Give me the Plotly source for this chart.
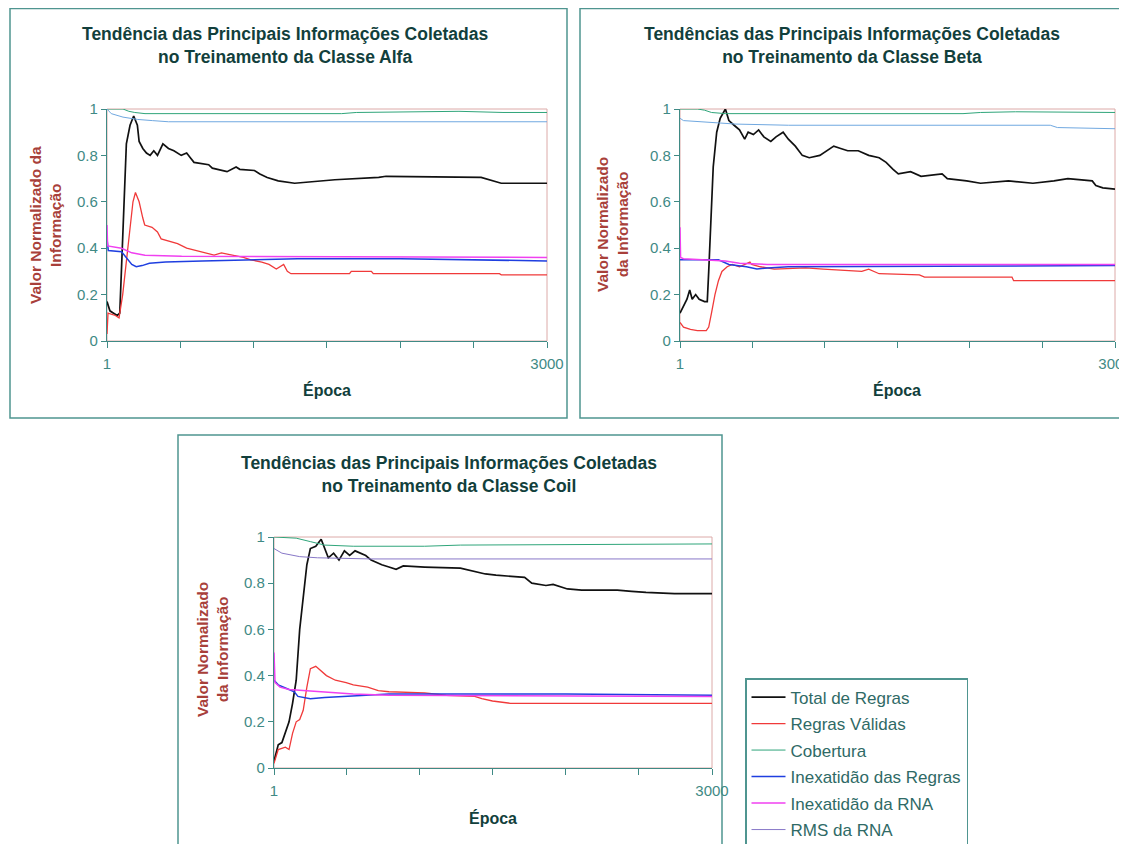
import plotly.graph_objects as go

PAGE_W, PAGE_H = 1127, 844
OFF = 8  # default page margin around the figure
W, H = PAGE_W - OFF, PAGE_H - OFF

series_names = ["Total de Regras", "Regras Válidas", "Cobertura",
                "Inexatidão das Regras", "Inexatidão da RNA", "RMS da RNA"]

# ---------------- Classe Alfa ----------------
alfa_total_x = [1, 21, 46, 71, 88, 108, 133, 158, 183, 208, 220, 245, 270, 295, 320, 345, 382, 420, 457, 507,
                544, 569, 594, 694, 719, 819, 881, 906, 1006, 1043, 1093, 1168, 1280, 1554, 1853, 1903, 2551,
                2688, 3000]
alfa_total_y = [0.17, 0.13, 0.12, 0.11, 0.12, 0.45, 0.85, 0.93, 0.97, 0.93, 0.86, 0.83, 0.81, 0.80, 0.82, 0.80,
                0.85, 0.83, 0.82, 0.80, 0.81, 0.79, 0.77, 0.76, 0.745, 0.73, 0.75, 0.74, 0.735, 0.72, 0.705,
                0.69, 0.68, 0.695, 0.705, 0.71, 0.705, 0.68, 0.68]
alfa_valid_x = [1, 8, 58, 83, 108, 133, 158, 178, 195, 220, 245, 258, 308, 345, 370, 420, 482, 544, 607, 669,
                731, 781, 856, 931, 981, 1056, 1105, 1155, 1205, 1230, 1255, 1654, 1666, 1803, 1816, 2676,
                2688, 3000]
alfa_valid_y = [0.03, 0.12, 0.11, 0.10, 0.20, 0.35, 0.50, 0.60, 0.64, 0.60, 0.53, 0.50, 0.49, 0.47, 0.44, 0.43,
                0.42, 0.40, 0.39, 0.38, 0.37, 0.38, 0.37, 0.36, 0.35, 0.34, 0.33, 0.31, 0.33, 0.30, 0.29, 0.29,
                0.30, 0.30, 0.29, 0.29, 0.285, 0.285]
alfa_cob_x = [1, 110, 150, 190, 260, 1600, 1700, 2400, 2700, 3000]
alfa_cob_y = [1.0, 1.0, 0.99, 0.985, 0.98, 0.98, 0.985, 0.99, 0.985, 0.985]
alfa_inexr_x = [1, 10, 100, 130, 170, 200, 240, 290, 400, 650, 1000, 1300, 2000, 2400, 3000]
alfa_inexr_y = [0.44, 0.39, 0.385, 0.36, 0.33, 0.32, 0.325, 0.335, 0.34, 0.345, 0.35, 0.355, 0.355, 0.35, 0.345]
alfa_inexn_x = [1, 5, 100, 170, 260, 510, 3000]
alfa_inexn_y = [0.50, 0.41, 0.40, 0.38, 0.37, 0.365, 0.36]
alfa_rms_x = [1, 30, 110, 210, 310, 420, 3000]
alfa_rms_y = [1.0, 0.98, 0.965, 0.955, 0.95, 0.945, 0.945]

# ---------------- Classe Beta ----------------
beta_total_x = [1, 25, 49, 68, 85, 109, 133, 170, 189, 199, 230, 254, 278, 314, 338, 374, 411, 447, 471, 507,
                543, 579, 627, 663, 712, 748, 796, 844, 892, 965, 1013, 1061, 1109, 1157, 1230, 1302, 1374,
                1422, 1470, 1506, 1591, 1627, 1663, 1808, 1844, 1977, 2073, 2266, 2434, 2579, 2675, 2843,
                2868, 2916, 3000]
beta_total_y = [0.12, 0.15, 0.18, 0.22, 0.18, 0.20, 0.18, 0.17, 0.17, 0.30, 0.75, 0.90, 0.96, 1.0, 0.95, 0.93,
                0.91, 0.87, 0.90, 0.89, 0.91, 0.88, 0.86, 0.88, 0.90, 0.87, 0.84, 0.80, 0.79, 0.80, 0.82, 0.84,
                0.83, 0.82, 0.82, 0.80, 0.79, 0.77, 0.74, 0.72, 0.73, 0.72, 0.71, 0.72, 0.70, 0.69, 0.68, 0.69,
                0.68, 0.69, 0.70, 0.69, 0.67, 0.66, 0.655]
beta_valid_x = [1, 25, 73, 121, 182, 199, 218, 242, 266, 290, 326, 362, 411, 483, 495, 555, 651, 868, 989,
                1206, 1254, 1302, 1374, 1651, 1687, 2290, 2301, 3000]
beta_valid_y = [0.08, 0.06, 0.05, 0.045, 0.045, 0.06, 0.12, 0.20, 0.26, 0.30, 0.32, 0.33, 0.32, 0.34, 0.33,
                0.32, 0.31, 0.315, 0.31, 0.30, 0.30, 0.31, 0.29, 0.285, 0.275, 0.275, 0.26, 0.26]
beta_cob_x = [1, 121, 170, 218, 314, 1952, 2073, 2314, 3000]
beta_cob_y = [1.0, 1.0, 0.995, 0.985, 0.98, 0.98, 0.985, 0.988, 0.985]
beta_inexr_x = [1, 266, 338, 459, 531, 603, 748, 3000]
beta_inexr_y = [0.35, 0.35, 0.33, 0.32, 0.31, 0.315, 0.32, 0.325]
beta_inexn_x = [1, 5, 25, 218, 314, 411, 603, 3000]
beta_inexn_y = [0.49, 0.36, 0.355, 0.35, 0.345, 0.335, 0.33, 0.33]
beta_rms_x = [1, 25, 146, 387, 748, 2554, 2603, 3000]
beta_rms_y = [0.96, 0.95, 0.945, 0.935, 0.93, 0.93, 0.92, 0.915]

# ---------------- Classe Coil ----------------
coil_total_x = [1, 30, 55, 79, 104, 128, 153, 177, 201, 226, 250, 287, 324, 348, 373, 409, 446, 483, 519, 556,
                593, 629, 666, 702, 739, 788, 837, 886, 1032, 1277, 1350, 1448, 1521, 1717, 1766, 1863, 1912,
                1961, 2010, 2108, 2352, 2450, 2548, 2743, 3000]
coil_total_y = [0.03, 0.10, 0.11, 0.15, 0.20, 0.28, 0.38, 0.60, 0.75, 0.88, 0.95, 0.96, 0.99, 0.95, 0.91, 0.93,
                0.90, 0.94, 0.92, 0.94, 0.93, 0.92, 0.90, 0.89, 0.88, 0.87, 0.86, 0.875, 0.87, 0.865, 0.855,
                0.84, 0.835, 0.825, 0.80, 0.79, 0.795, 0.785, 0.775, 0.77, 0.77, 0.765, 0.76, 0.755, 0.755]
coil_valid_x = [1, 30, 79, 104, 128, 153, 177, 201, 226, 250, 287, 324, 360, 421, 495, 544, 642, 715, 788,
                1032, 1179, 1375, 1424, 1497, 1619, 3000]
coil_valid_y = [0.02, 0.08, 0.09, 0.08, 0.15, 0.20, 0.21, 0.25, 0.35, 0.43, 0.44, 0.42, 0.40, 0.38, 0.37,
                0.36, 0.35, 0.335, 0.33, 0.325, 0.315, 0.31, 0.30, 0.29, 0.28, 0.28]
coil_cob_x = [1, 153, 250, 348, 544, 1032, 1277, 2743, 3000]
coil_cob_y = [1.0, 0.995, 0.98, 0.965, 0.96, 0.96, 0.965, 0.968, 0.97]
coil_inexr_x = [1, 30, 104, 140, 165, 201, 250, 348, 495, 642, 788, 2000, 2743, 3000]
coil_inexr_y = [0.38, 0.36, 0.34, 0.33, 0.31, 0.305, 0.30, 0.305, 0.31, 0.315, 0.32, 0.32, 0.315, 0.315]
coil_inexn_x = [1, 8, 42, 104, 201, 299, 544, 788, 3000]
coil_inexn_y = [0.50, 0.37, 0.35, 0.34, 0.335, 0.33, 0.32, 0.315, 0.31]
coil_rms_x = [1, 55, 177, 299, 666, 3000]
coil_rms_y = [0.95, 0.93, 0.915, 0.91, 0.905, 0.905]

titles = ["Tendência das Principais Informações Coletadas<br>no Treinamento da Classe Alfa",
          "Tendências das Principais Informações Coletadas<br>no Treinamento da Classe Beta",
          "Tendências das Principais Informações Coletadas<br>no Treinamento da Classe Coil"]
ytitles = ["Valor Normalizado da<br>Informação",
           "Valor Normalizado<br>da Informação",
           "Valor Normalizado<br>da Informação"]
xtitle = "Época"
x_tickvals = [1, 500, 1000, 1500, 2000, 2500, 3000]
x_ticktext = ["1", "", "", "", "", "", "3000"]
y_tickvals = [0, 0.2, 0.4, 0.6, 0.8, 1.0]
y_ticktext = ["0", "0.2", "0.4", "0.6", "0.8", "1"]

panels = [
    [(alfa_total_x, alfa_total_y), (alfa_valid_x, alfa_valid_y), (alfa_cob_x, alfa_cob_y),
     (alfa_inexr_x, alfa_inexr_y), (alfa_inexn_x, alfa_inexn_y), (alfa_rms_x, alfa_rms_y)],
    [(beta_total_x, beta_total_y), (beta_valid_x, beta_valid_y), (beta_cob_x, beta_cob_y),
     (beta_inexr_x, beta_inexr_y), (beta_inexn_x, beta_inexn_y), (beta_rms_x, beta_rms_y)],
    [(coil_total_x, coil_total_y), (coil_valid_x, coil_valid_y), (coil_cob_x, coil_cob_y),
     (coil_inexr_x, coil_inexr_y), (coil_inexn_x, coil_inexn_y), (coil_rms_x, coil_rms_y)],
]

colors_panel = [
    ["#111111", "#f03a3a", "#2fa57a", "#1f3fe0", "#f040f0", "#70a8e0"],
    ["#111111", "#f03a3a", "#2fa57a", "#1f3fe0", "#f040f0", "#70a8e0"],
    ["#111111", "#f03a3a", "#2fa57a", "#1f3fe0", "#f040f0", "#8878c8"],
]
widths = [1.7, 1.3, 1.0, 1.5, 1.5, 1.0]

# page-pixel layout (positions in the 1127x844 screenshot)
plot_px = [(107, 547, 109, 341), (680, 1115, 109, 341), (274, 712, 537, 768)]
frame_px = [(10, 567, 8.5, 418), (580, 1123, 8.5, 418), (178, 722, 435, 870)]
title_px = [(285, 46), (852, 46), (449, 474)]
ytitle_px = [(45, 225), (612, 225), (212, 650)]
xtitle_px = [(327, 390), (897, 390), (493, 818)]

def px2x(p):
    return (p - OFF) / W

def px2y(p):
    return 1 - (p - OFF) / H

FONT = "Liberation Sans, Arial, sans-serif"
TEAL = "#3f8a85"
TXT = "#1e4b48"

fig = go.Figure()
for i, data in enumerate(panels):
    sfx = "" if i == 0 else str(i + 1)
    for j, (xs, ys) in enumerate(data):
        fig.add_trace(go.Scatter(
            x=xs, y=ys, mode="lines", name=series_names[j],
            line=dict(color=colors_panel[i][j], width=widths[j]),
            xaxis="x" + sfx, yaxis="y" + sfx,
            showlegend=(i == 2), legendgroup="g%d" % j,
            hoverinfo="skip"))

layout = dict(
    width=W, height=H, margin=dict(l=0, r=0, t=0, b=0, autoexpand=False),
    paper_bgcolor="white", plot_bgcolor="white",
    font=dict(family=FONT, color=TXT),
    showlegend=True,
    legend=dict(x=px2x(745), y=px2y(678), xanchor="left", yanchor="top",
                bordercolor="#4f9590", borderwidth=1.5, bgcolor="white",
                font=dict(size=17, color="#2f6a66", family=FONT),
                traceorder="grouped", tracegroupgap=1.4, itemwidth=34),
)
shapes = []
annotations = []
for i in range(3):
    sfx = "" if i == 0 else str(i + 1)
    x0, x1, y0, y1 = plot_px[i]
    layout["xaxis" + sfx] = dict(
        domain=[px2x(x0), px2x(x1)], range=[1, 3000], anchor="y" + sfx,
        tickvals=x_tickvals, ticktext=x_ticktext, ticks="outside", ticklen=6,
        tickcolor=TEAL, showline=True, linecolor=TEAL, linewidth=1.2,
        showgrid=False, zeroline=False, ticklabelstandoff=3,
        ticklabeloverflow="allow",
        tickfont=dict(size=15, color=TEAL), fixedrange=True)
    layout["yaxis" + sfx] = dict(
        domain=[px2y(y1), px2y(y0)], range=[0, 1], anchor="x" + sfx,
        tickvals=y_tickvals, ticktext=y_ticktext, ticks="outside", ticklen=5,
        tickcolor=TEAL, showline=True, linecolor=TEAL, linewidth=1.2,
        showgrid=False, zeroline=False, tickfont=dict(size=15, color=TEAL),
        fixedrange=True)
    shapes.append(dict(type="rect", xref="x%s domain" % sfx, yref="y%s domain" % sfx,
                       x0=0, x1=1, y0=0, y1=1, line=dict(color="#dcaaa8", width=1),
                       layer="below"))
    fx0, fx1, fy0, fy1 = frame_px[i]
    shapes.append(dict(type="rect", xref="paper", yref="paper",
                       x0=px2x(fx0), x1=px2x(fx1), y0=px2y(fy1), y1=px2y(fy0),
                       line=dict(color="#4f9590", width=1.5), layer="below"))
    tx, ty = title_px[i]
    annotations.append(dict(text="<b>%s</b>" % titles[i], x=px2x(tx), y=px2y(ty),
                            xref="paper", yref="paper", showarrow=False,
                            xanchor="center", yanchor="middle",
                            font=dict(size=17.5, color="#123f3c", family=FONT)))
    yx, yy = ytitle_px[i]
    annotations.append(dict(text="<b>%s</b>" % ytitles[i], x=px2x(yx), y=px2y(yy),
                            xref="paper", yref="paper", showarrow=False, textangle=-90,
                            xanchor="center", yanchor="middle",
                            font=dict(size=15.5, color="#a8403a", family=FONT)))
    xx, xy = xtitle_px[i]
    annotations.append(dict(text="<b>%s</b>" % xtitle, x=px2x(xx), y=px2y(xy),
                            xref="paper", yref="paper", showarrow=False,
                            xanchor="center", yanchor="middle",
                            font=dict(size=16, color="#123f3c", family=FONT)))
layout["shapes"] = shapes
layout["annotations"] = annotations
fig.update_layout(**layout)
fig.write_html("out.html")
